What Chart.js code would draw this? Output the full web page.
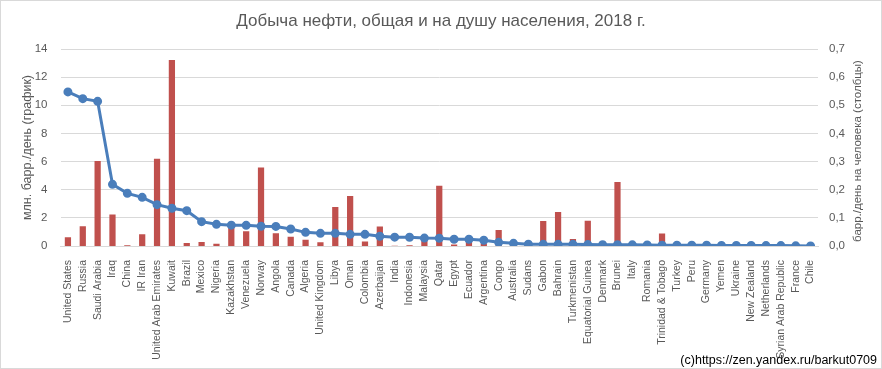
<!DOCTYPE html>
<html>
<head>
<meta charset="utf-8">
<script src="https://cdn.jsdelivr.net/npm/chart.js@4"></script>
<style>
  html, body { margin: 0; padding: 0; background: #fff; }
  #wrap { width: 882px; height: 369px; }
</style>
</head>
<body>
<div id="wrap"><canvas id="neft" width="882" height="369"></canvas></div>
<script>
const strany = ["United States", "Russia", "Saudi Arabia", "Iraq", "China", "IR Iran", "United Arab Emirates",
  "Kuwait", "Brazil", "Mexico", "Nigeria", "Kazakhstan", "Venezuela", "Norway", "Angola", "Canada",
  "Algeria", "United Kingdom", "Libya", "Oman", "Colombia", "Azerbaijan", "India", "Indonesia",
  "Malaysia", "Qatar", "Egypt", "Ecuador", "Argentina", "Congo", "Australia", "Sudans", "Gabon",
  "Bahrain", "Turkmenistan", "Equatorial Guinea", "Denmark", "Brunei", "Italy", "Romania",
  "Trinidad & Tobago", "Turkey", "Peru", "Germany", "Yemen", "Ukraine", "New Zealand",
  "Netherlands", "Syrian Arab Republic", "France", "Chile"];

// млн. барр./день (график)
const dobycha = [10.95, 10.47, 10.28, 4.38, 3.74, 3.46, 2.94, 2.68, 2.51, 1.73, 1.54, 1.48, 1.47,
  1.40, 1.39, 1.21, 0.97, 0.90, 0.90, 0.83, 0.83, 0.69, 0.63, 0.62, 0.56, 0.55, 0.48, 0.48, 0.41,
  0.26, 0.19, 0.13, 0.12, 0.12, 0.12, 0.10, 0.09, 0.09, 0.08, 0.07, 0.06, 0.05, 0.05, 0.05, 0.04,
  0.04, 0.04, 0.03, 0.03, 0.01, 0.005];

// барр./день на человека (столбцы)
const naDushu = [0.031, 0.070, 0.302, 0.112, 0.003, 0.042, 0.310, 0.661, 0.011, 0.014, 0.008, 0.080,
  0.052, 0.279, 0.045, 0.033, 0.022, 0.013, 0.139, 0.178, 0.016, 0.069, 0.0005, 0.0023, 0.018,
  0.214, 0.005, 0.022, 0.009, 0.057, 0.007, 0.003, 0.089, 0.121, 0.025, 0.090, 0.015, 0.227,
  0.0013, 0.0035, 0.044, 0.0006, 0.0015, 0.0005, 0.0013, 0.001, 0.0065, 0.002, 0.002, 0.0003, 0.0003];

const levyeTiki = [0, 2, 4, 6, 8, 10, 12, 14];
const pravyeTiki = ["0,0", "0,1", "0,2", "0,3", "0,4", "0,5", "0,6", "0,7"];

const ramka = {
  id: "ramka",
  afterDraw(chart) {
    const c = chart.ctx;
    c.save();
    c.strokeStyle = "#d9d9d9";
    c.lineWidth = 1;
    c.strokeRect(0.5, 0.5, chart.width - 1, chart.height - 1);
    // подпись правой оси, читается снизу вверх как в Excel
    c.fillStyle = "#595959";
    c.font = "11.5px 'Liberation Sans', sans-serif";
    c.textAlign = "center";
    c.textBaseline = "middle";
    c.translate(858, 151);
    c.rotate(-Math.PI / 2);
    c.fillText("барр./день на человека (столбцы)", 0, 0);
    c.setTransform(1, 0, 0, 1, 0, 0);
    c.fillStyle = "#000";
    c.font = "12.5px 'Liberation Sans', sans-serif";
    c.textAlign = "right";
    c.textBaseline = "alphabetic";
    c.fillText("(c)https://zen.yandex.ru/barkut0709", 877, 364);
    c.restore();
  }
};

const shrift = { family: "'Liberation Sans', sans-serif", size: 11.5 };

new Chart(document.getElementById("neft").getContext("2d"), {
  data: {
    labels: strany,
    datasets: [{
      type: "line",
      label: "Добыча",
      data: dobycha,
      yAxisID: "y",
      borderColor: "#4a7ebb",
      backgroundColor: "#4a7ebb",
      borderWidth: 3,
      pointRadius: 3,
      pointHoverRadius: 3,
      tension: 0,
      order: 1
    }, {
      type: "bar",
      label: "На душу",
      data: naDushu,
      yAxisID: "y2",
      backgroundColor: "#c0504d",
      barPercentage: 0.42,
      categoryPercentage: 1,
      order: 2
    }]
  },
  options: {
    responsive: false,
    animation: false,
    layout: { padding: 0 },
    plugins: {
      legend: { display: false },
      tooltip: { enabled: false },
      title: {
        display: true,
        text: "Добыча нефти, общая и на душу населения, 2018 г.",
        color: "#595959",
        font: { family: "'Liberation Sans', sans-serif", size: 17, weight: "normal" },
        padding: { top: 11, bottom: 17.6 }
      }
    },
    scales: {
      x: {
        grid: { display: false },
        border: { color: "#d9d9d9" },
        ticks: {
          color: "#595959", font: { family: "'Liberation Sans', sans-serif", size: 10.5 },
          autoSkip: false, maxRotation: 90, minRotation: 90, padding: 6
        },
        afterFit(s) { s.height = 123; }
      },
      y: {
        position: "left",
        min: 0, max: 14,
        afterBuildTicks(s) { s.ticks = levyeTiki.map(v => ({ value: v })); },
        grid: { color: "#d9d9d9", drawTicks: false },
        border: { display: false },
        ticks: { color: "#595959", font: shrift, padding: 13 },
        title: {
          display: true, text: "млн. барр./день (график)", color: "#595959",
          font: { family: "'Liberation Sans', sans-serif", size: 12.5 }, padding: { top: 20, bottom: 0 }
        },
        afterFit(s) { s.width = 60.5; }
      },
      y2: {
        position: "right",
        min: 0, max: 0.7,
        afterBuildTicks(s) { s.ticks = pravyeTiki.map((t, i) => ({ value: i / 10 })); },
        grid: { display: false, drawTicks: false },
        border: { display: false },
        ticks: {
          color: "#595959", font: shrift, padding: 11,
          callback: (v, i) => pravyeTiki[i]
        },
        afterFit(s) { s.width = 64; }
      }
    }
  },
  plugins: [ramka]
});
</script>
</body>
</html>
